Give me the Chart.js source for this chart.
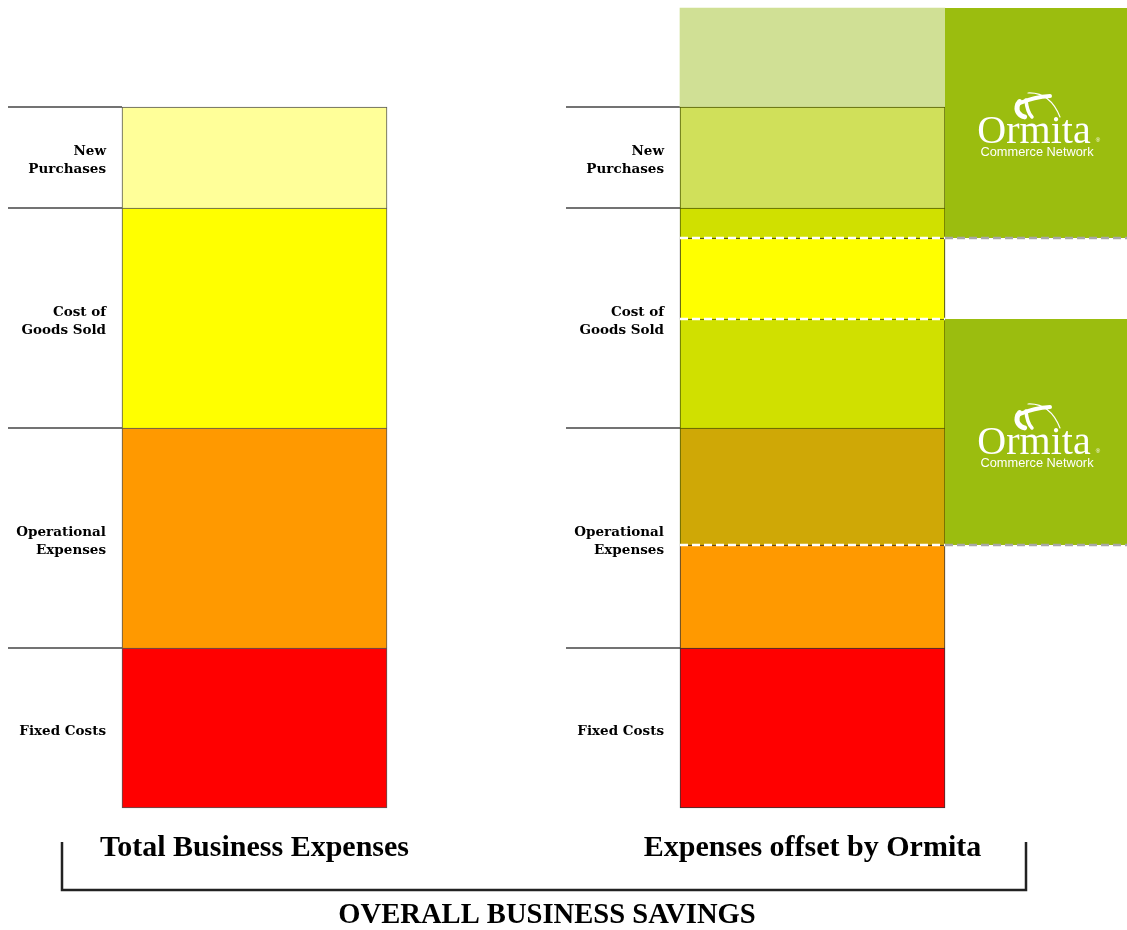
<!DOCTYPE html>
<html lang="en">
<head>
  <meta charset="UTF-8">
  <title>Overall Business Savings</title>
  <script src="https://cdn.jsdelivr.net/npm/chart.js"></script>
  <style>
    html, body { margin: 0; padding: 0; background: #fff; }
    #wrap { width: 1127px; height: 930px; }
  </style>
</head>
<body>
  <div id="wrap"><canvas id="myChart" width="1127" height="930"></canvas></div>

  <script>
    // data
    var categories = ['Total Business Expenses', 'Expenses offset by Ormita'];
    var expenseLabels = [['Fixed Costs'], ['Operational', 'Expenses'], ['Cost of', 'Goods Sold'], ['New', 'Purchases']];
    var totalValues = [16, 22, 22, 10.1];
    var offsetNames = ['Fixed Costs', 'Operational Expenses', 'Operational Expenses offset', 'Cost of Goods Sold offset',
                       'Cost of Goods Sold', 'Cost of Goods Sold offset', 'New Purchases offset', 'Extra Purchasing Power'];
    var offsetValues = [16, 10.3, 11.7, 10.9, 8.1, 3.0, 10.1, 9.9];
    var ormitaRanges = [[26.3, 48.9], [57, 80]];
    var chartTitle = 'OVERALL BUSINESS SAVINGS';
    var axisMax = 80;

    // colours
    var totalColors = ['#ff0000', '#ff9900', '#ffff00', '#ffff99'];
    var offsetColors = ['#ff0000', '#ff9900', '#cfa806', '#d0e000', '#ffff00', '#d0e000', '#d0e05a', '#d0e095'];
    var offsetBorders = ['#333', '#333', '#4f5a00', '#4f5a00', '#222', '#4f5a00', '#4f5a00', 'rgba(0,0,0,0)'];
    var ormitaGreen = '#9bbd0f';

    var datasets = [];
    totalValues.forEach(function(v, i) {
      datasets.push({
        label: expenseLabels[i].join(' '),
        data: [v, null],
        stack: 'total',
        clip: false,
        backgroundColor: totalColors[i],
        borderColor: '#555',
        borderWidth: 1,
        borderSkipped: i === 0 ? false : 'start'
      });
    });
    offsetValues.forEach(function(v, i) {
      datasets.push({
        label: offsetNames[i],
        data: [null, v],
        stack: 'offset',
        clip: false,
        backgroundColor: offsetColors[i],
        borderColor: offsetBorders[i],
        borderWidth: i === offsetValues.length - 1 ? 0 : 1,
        borderSkipped: i === 0 ? false : 'start'
      });
    });

    function drawLogo(ctx, cx, top) {
      ctx.save();
      ctx.fillStyle = '#fff';
      ctx.strokeStyle = '#fff';
      ctx.lineCap = 'round';
      // swoosh
      ctx.lineWidth = 1.2;
      ctx.beginPath();
      ctx.moveTo(cx - 8, top + 85);
      ctx.quadraticCurveTo(cx + 14, top + 84, cx + 24, top + 109);
      ctx.stroke();
      ctx.lineWidth = 4;
      ctx.beginPath();
      ctx.moveTo(cx - 16, top + 95);
      ctx.quadraticCurveTo(cx - 2, top + 89, cx + 14, top + 88);
      ctx.stroke();
      ctx.lineWidth = 5;
      ctx.beginPath();
      ctx.arc(cx - 10, top + 100, 9, Math.PI * 0.55, Math.PI * 1.25);
      ctx.stroke();
      ctx.lineWidth = 3.5;
      ctx.beginPath();
      ctx.moveTo(cx - 10, top + 92);
      ctx.quadraticCurveTo(cx - 9, top + 104, cx - 4, top + 109);
      ctx.stroke();
      // text
      ctx.textAlign = 'center';
      ctx.textBaseline = 'alphabetic';
      ctx.font = '40px "Liberation Serif"';
      ctx.fillText('Ormita', cx - 2, top + 135);
      ctx.font = '6px "Liberation Sans"';
      ctx.fillText('®', cx + 62, top + 134);
      ctx.font = '12.8px "Liberation Sans"';
      ctx.fillText('Commerce Network', cx + 1, top + 148);
      ctx.restore();
    }

    var decor = {
      id: 'decor',
      beforeDatasetsDraw: function(chart) {
        var ctx = chart.ctx, y = chart.scales.y;
        var leftBar = chart.getDatasetMeta(0).data[0];
        var rightBar = chart.getDatasetMeta(totalValues.length).data[1];
        var edges = [leftBar.x - leftBar.width / 2, rightBar.x - rightBar.width / 2];
        var cum = 0;
        ctx.save();
        totalValues.forEach(function(v, i) {
          var y0 = y.getPixelForValue(cum);
          cum += v;
          var y1 = y.getPixelForValue(cum);
          var mid = (y0 + y1) / 2 + 3;
          var lines = expenseLabels[i];
          edges.forEach(function(ex) {
            ctx.strokeStyle = '#444';
            ctx.lineWidth = 1.5;
            ctx.beginPath();
            ctx.moveTo(ex - 114, y1);
            ctx.lineTo(ex, y1);
            ctx.stroke();
            ctx.fillStyle = '#000';
            ctx.font = 'bold 13.5px "DejaVu Serif"';
            ctx.textAlign = 'right';
            ctx.textBaseline = 'middle';
            lines.forEach(function(t, k) {
              ctx.fillText(t, ex - 16, mid + (k - (lines.length - 1) / 2) * 18);
            });
          });
        });
        ctx.restore();
      },
      afterDatasetsDraw: function(chart) {
        var ctx = chart.ctx, y = chart.scales.y;
        var leftBar = chart.getDatasetMeta(0).data[0];
        var rightBar = chart.getDatasetMeta(totalValues.length).data[1];
        var barL = rightBar.x - rightBar.width / 2;
        var barR = rightBar.x + rightBar.width / 2;
        ctx.save();
        ormitaRanges.forEach(function(r) {
          var yt = y.getPixelForValue(r[1]);
          var yb = y.getPixelForValue(r[0]);
          ctx.fillStyle = ormitaGreen;
          ctx.fillRect(barR, yt, chart.width - barR, yb - yt);
          drawLogo(ctx, (barR + chart.width) / 2, yt);
          ctx.lineWidth = 2.5;
          ctx.setLineDash([8, 4]);
          // grey line under the box
          ctx.strokeStyle = '#a8a8a8';
          ctx.beginPath();
          ctx.moveTo(barR, yb);
          ctx.lineTo(chart.width, yb);
          ctx.stroke();
          // white lines across the bar
          ctx.strokeStyle = '#fff';
          r.forEach(function(v) {
            if (v >= axisMax) return;
            var py = y.getPixelForValue(v);
            ctx.beginPath();
            ctx.moveTo(barL, py);
            ctx.lineTo(barR, py);
            ctx.stroke();
          });
          ctx.setLineDash([]);
        });
        // bracket under both bars, with the overall title below it
        var bl = leftBar.x - leftBar.width / 2 - 60;
        var br = barR + 81;
        var b0 = y.getPixelForValue(0);
        ctx.strokeStyle = '#222';
        ctx.lineWidth = 2.5;
        ctx.beginPath();
        ctx.moveTo(bl, b0 + 34);
        ctx.lineTo(bl, b0 + 82);
        ctx.lineTo(br, b0 + 82);
        ctx.lineTo(br, b0 + 34);
        ctx.stroke();
        ctx.fillStyle = '#000';
        ctx.font = 'bold 28.6px "Liberation Serif"';
        ctx.textAlign = 'center';
        ctx.textBaseline = 'middle';
        ctx.fillText(chartTitle, (bl + br) / 2 + 3, b0 + 108);
        ctx.restore();
      }
    };

    var ctx = document.getElementById('myChart').getContext('2d');
    var chart = new Chart(ctx, {
      type: 'bar',
      data: {
        labels: categories,
        datasets: datasets
      },
      options: {
        responsive: false,
        animation: false,
        grouped: false,
        barThickness: 265,
        layout: { padding: { top: 8, left: 254.5, right: 314.5, bottom: 42 } },
        scales: {
          x: {
            offset: false,
            grid: { display: false, drawTicks: false },
            border: { display: false },
            ticks: {
              color: '#000',
              padding: 22,
              maxRotation: 0,
              autoSkip: false,
              font: { family: '"Liberation Serif"', size: 30, weight: 'bold' }
            }
          },
          y: {
            stacked: true,
            min: 0,
            max: axisMax,
            display: false
          }
        },
        plugins: {
          legend: { display: false },
          tooltip: { enabled: false },
          title: { display: false }
        }
      },
      plugins: [decor]
    });
  </script>
</body>
</html>
